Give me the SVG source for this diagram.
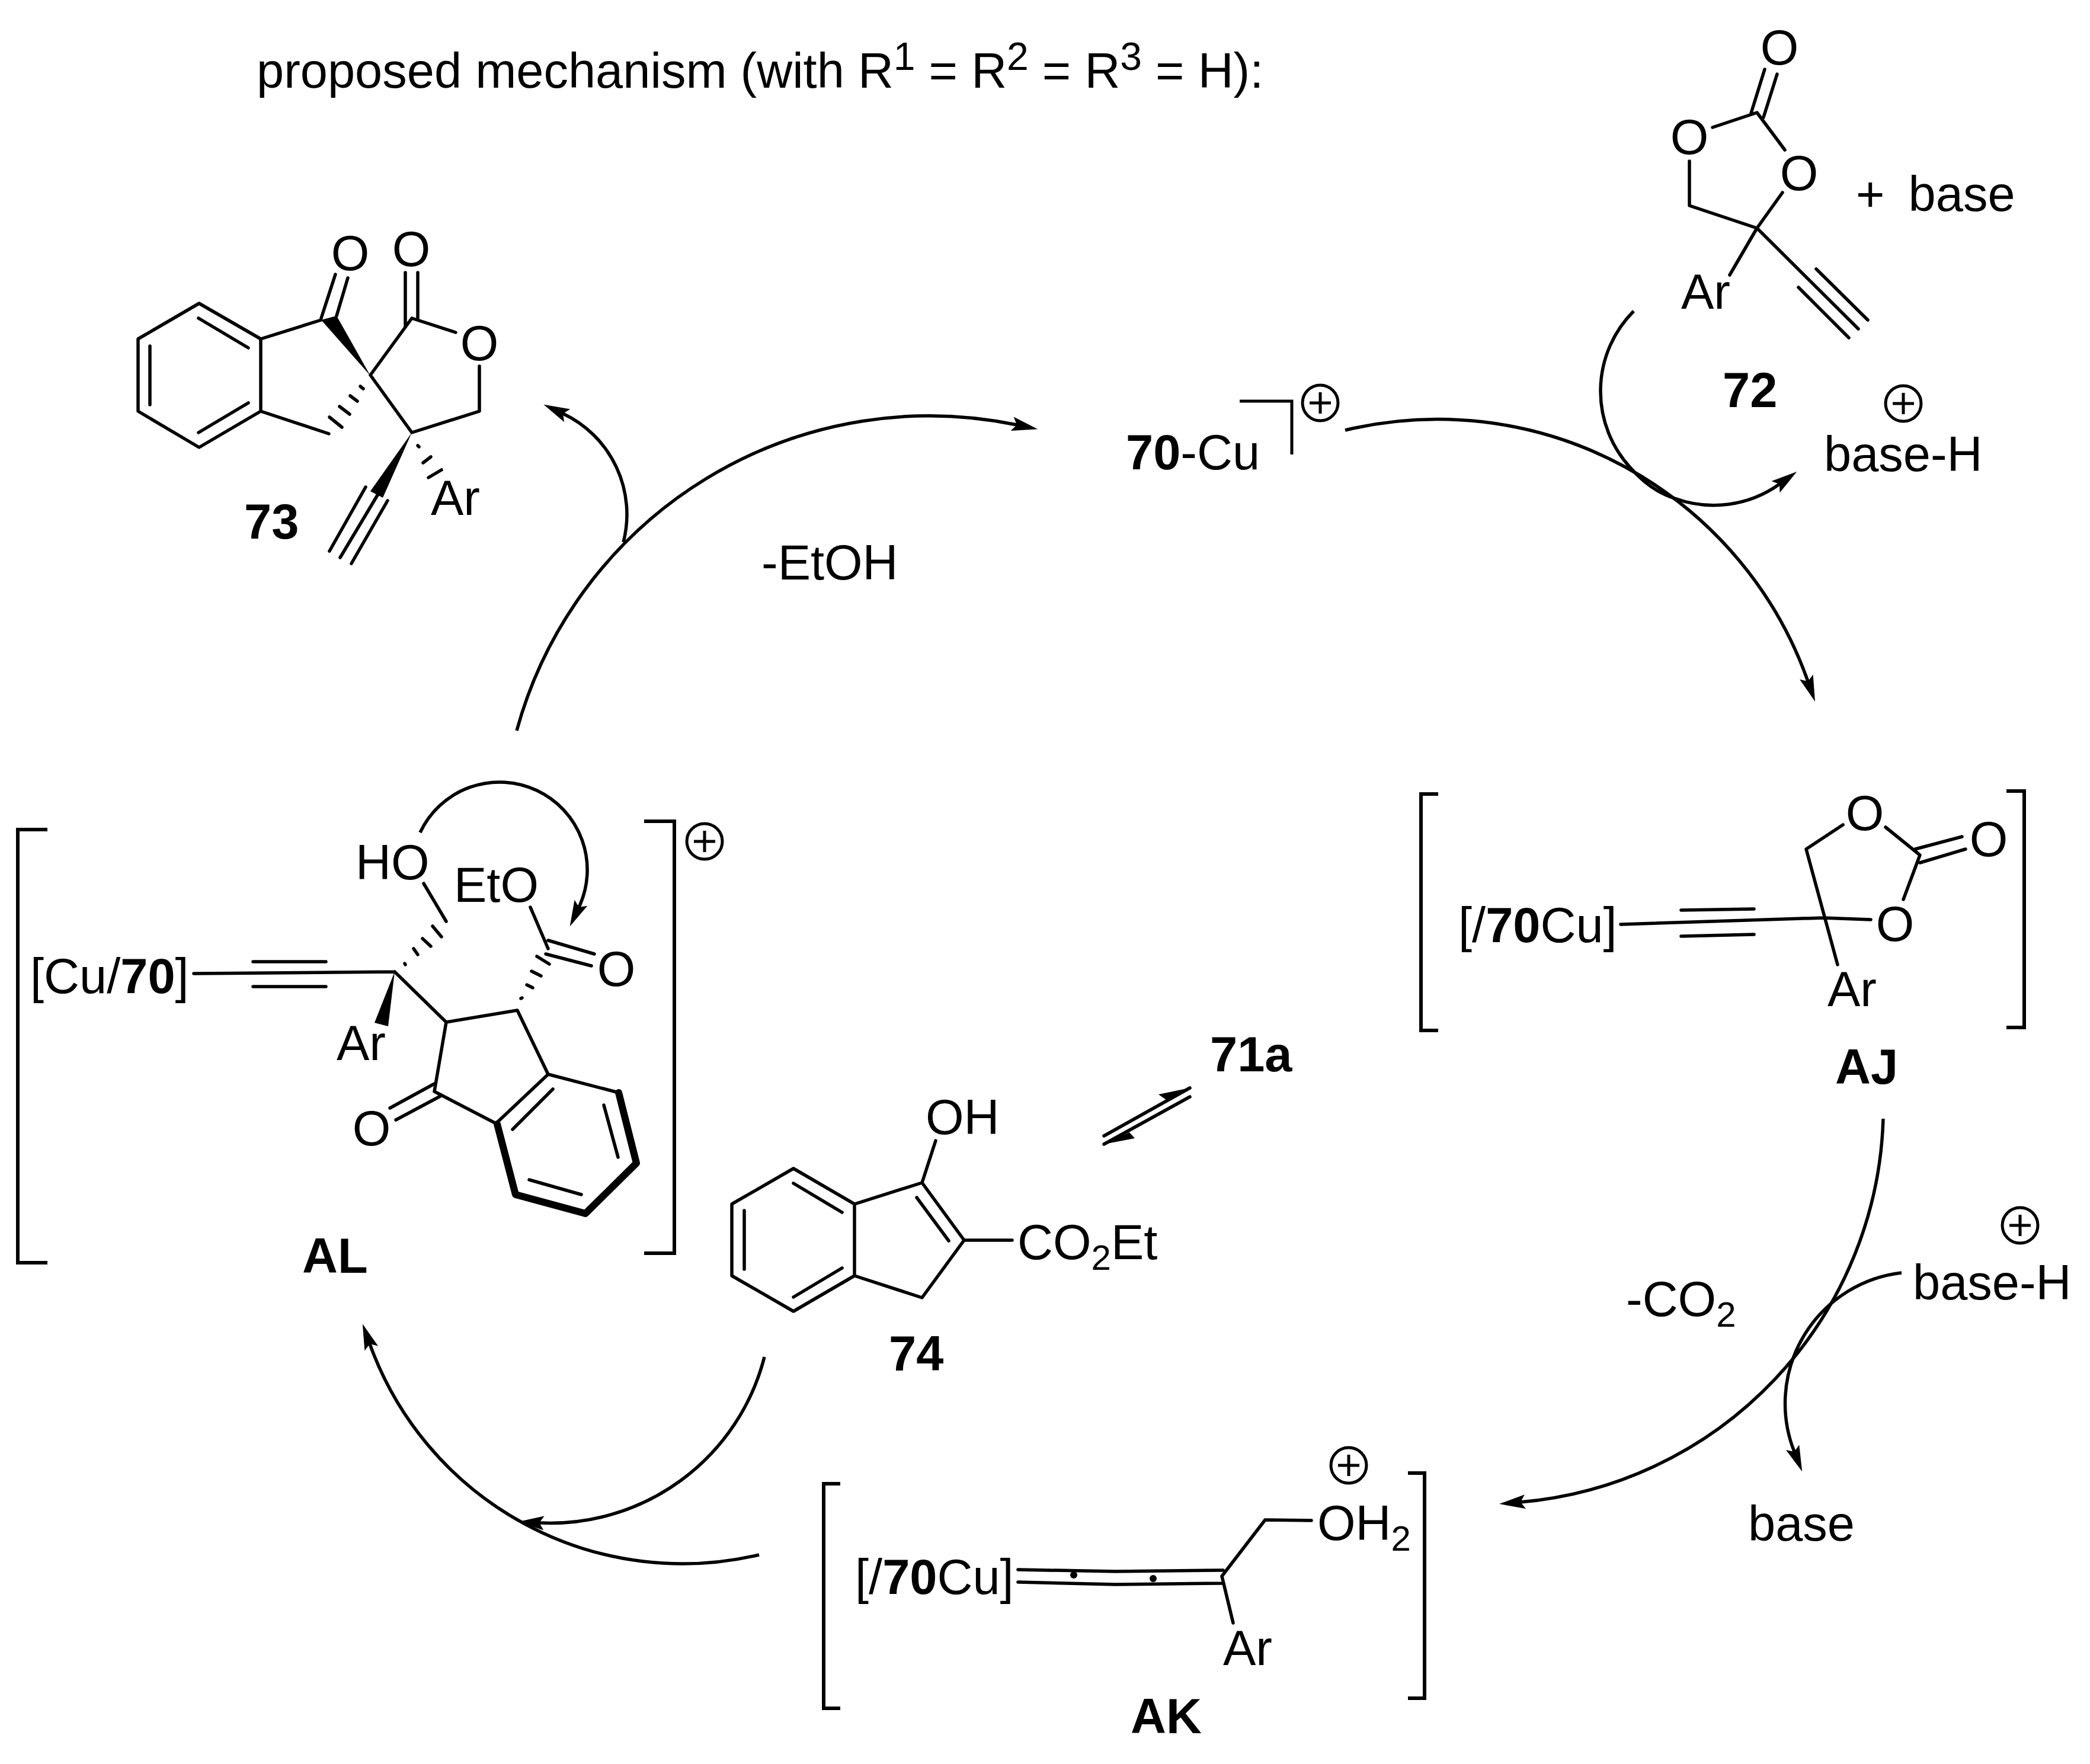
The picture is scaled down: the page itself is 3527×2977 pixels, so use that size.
<svg xmlns="http://www.w3.org/2000/svg" xmlns:xlink="http://www.w3.org/1999/xlink" width="3527" height="2977" viewBox="0 0 3527 2977">
<style>
text{font-family:"Liberation Sans",Arial,sans-serif;font-size:83px;fill:#000;white-space:pre}
.l{font-weight:700}
.m{text-anchor:middle}
.sm{font-size:60px}
.sb{font-size:66px}
.bd{font-weight:700}
.b{fill:none;stroke:#000;stroke-width:5.5;stroke-linecap:round;stroke-linejoin:round}
.h{stroke-width:12;stroke-linecap:round}
.br{fill:none;stroke:#000;stroke-width:6;stroke-linecap:butt;stroke-linejoin:miter}
.w{fill:#000;stroke:none}
.a{fill:none;stroke:#000;stroke-width:5.5;marker-end:url(#ah)}
.p{fill:none;stroke:#000;stroke-width:5;stroke-linecap:butt}
</style>
<defs>
<marker id="ah" markerUnits="userSpaceOnUse" markerWidth="60" markerHeight="40" refX="10" refY="20" orient="auto" overflow="visible"><path d="M2,8 L46,20 L2,32 L10,20Z" fill="#000"/></marker>
<g id="plus"><circle r="30" class="p"/><path d="M-18,0H18M0,-18V18" class="p"/></g>
</defs>
<rect width="3527" height="2977" fill="#fff"/>
<g id="connectors">
<path class="a" d="M1052,915A188,188 0 0 0 950,698"/>
<path class="a" d="M872,1233A722,722 0 0 1 1716,717"/>
<path class="a" d="M2270,726A663,663 0 0 1 3051,1150"/>
<path class="a" d="M2757,525A191,191 0 0 0 2752,790Q2785,828 2826,841A191,191 0 0 0 3003,817"/>
<path class="a" d="M3178,1888A670,670 0 0 1 2566,2535"/>
<path class="a" d="M3209,2148A222,222 0 0 0 3028,2450"/>
<path class="a" d="M1290,2290A373,373 0 0 1 910,2570"/>
<path class="a" d="M1281,2624A561,561 0 0 1 624,2268"/>
<path class="a" d="M709,1405A148,148 0 0 1 977,1531"/>
<path class="b" d="M1863,1917L2008,1836M2008,1851L1863,1931"/>
<path class="w" d="M2008,1836L1955,1847L1968,1856ZM1863,1931L1915,1921L1906,1911Z"/>
</g>
<g id="title"><text x="433" y="148">proposed mechanism (with R<tspan class="sb" dy="-30">1</tspan><tspan dy="30"> = R</tspan><tspan class="sb" dy="-30">2</tspan><tspan dy="30"> = R</tspan><tspan class="sb" dy="-30">3</tspan><tspan dy="30"> = H):</tspan></text></g>
<g id="n73">
<path class="b" d="M336,512L233,572V694L336,755L440,694V572ZM335,537L419,587M253,584V683M335,730L419,680M440,572L542,540M542,537L566,463M568,533L587,469M625,633L695,537L769,561M809,618V694L695,730L625,633M684,550V460M705,537V460M440,694L555,732M608,652L613,656M591,668L603,677M573,686L590,699M556,704L577,721M705,752L707,754M714,781L727,771M723,806L745,793M638,834L574,941M617,822L556,930M654,845L593,951"/>
<path class="w" d="M625,634L542,540L568,533ZM695,730L625,829L646,840Z"/>
<text class="m" x="591" y="456">O</text><text class="m" x="694" y="449">O</text><text class="m" x="809" y="608">O</text>
<text x="727" y="869">Ar</text><text class="l" x="412" y="909">73</text>
</g>
<g id="n72">
<path class="b" d="M2978,117L2955,191M2999,125L2976,198M2890,215L2965,190L3012,253M3008,325L2965,385L2851,347V272M2965,385L2919,464M2965,385L3136,555M3065,454L3152,540M3035,485L3120,570"/>
<text class="m" x="3003" y="109">O</text><text class="m" x="2851" y="260">O</text><text class="m" x="3036" y="321">O</text>
<text x="2837" y="521">Ar</text><text x="3132" y="356">+<tspan dx="-6">  base</tspan></text><text class="l" x="2907" y="687">72</text>
</g>
<g id="baseH1"><use href="#plus" xlink:href="#plus" x="3212" y="681"/><text x="3078" y="795">base-H</text></g>
<g id="n70Cu"><text x="1900" y="792"><tspan class="bd">70</tspan>-Cu</text><path class="p" d="M2092,677H2180V767"/><use href="#plus" xlink:href="#plus" x="2228" y="680"/></g>
<g id="nAJ">
<path class="br" d="M2427,1340H2398V1739H2427M3386,1335H3416V1734H3386"/>
<path class="b" d="M2735,1560L3077,1549L3157,1552M2837,1536L2960,1534M2837,1580L2960,1577M3110,1392L3048,1433L3101,1628M3182,1396L3240,1443L3212,1518M3232,1433L3311,1412M3240,1456L3317,1433"/>
<text x="2461" y="1590">[/<tspan class="bd">70</tspan>Cu]</text>
<text class="m" x="3198" y="1588">O</text><text class="m" x="3147" y="1401">O</text><text class="m" x="3356" y="1445">O</text>
<text x="3084" y="1698">Ar</text><text class="l" x="3097" y="1829">AJ</text>
</g>
<g id="nAK">
<path class="br" d="M1418,2504H1390V2883H1418M2376,2486H2404V2866H2376"/>
<path class="b" d="M1718,2649L1883,2652L2064,2650M1718,2670L1883,2674L2062,2672M2062,2660L2135,2565L2213,2566M2062,2660L2081,2739"/>
<circle cx="1812" cy="2658" r="6" class="w"/><circle cx="1946" cy="2664" r="6" class="w"/>
<use href="#plus" xlink:href="#plus" x="2276" y="2473"/>
<text x="1443" y="2690">[/<tspan class="bd">70</tspan>Cu]</text>
<text x="2223" y="2599">OH<tspan class="sm" dy="18">2</tspan></text>
<text x="2064" y="2810">Ar</text><text class="l" x="1908" y="2925">AK</text>
</g>
<g id="nAL">
<path class="br" d="M80,1400H30V2131H80M1087,1386H1138V2115H1087"/>
<use href="#plus" xlink:href="#plus" x="1189" y="1420"/>
<path class="b" d="M327,1643L666,1640M427,1623H550M427,1665H550M683,1626L684,1628M698,1601L705,1611M713,1584L727,1597M730,1563L745,1581M753,1555L715,1491M895,1531L925,1601M925,1587L1003,1610M921,1610L998,1630M879,1685L881,1684M889,1662L899,1667M897,1639L913,1647M906,1614L927,1627M666,1640L753,1725L873,1705L925,1813M753,1725L733,1842M733,1829L658,1870M743,1850L668,1890M733,1842L837,1896M925,1813L837,1896M933,1838L865,1906M925,1813L1044,1844M1019,1865L1043,1953M893,1991L981,2016"/>
<path class="b h" d="M1044,1844L1074,1963L988,2048L870,2016L839,1897"/>
<path class="w" d="M666,1640L632,1726L655,1732Z"/>
<text x="51" y="1676">[Cu/<tspan class="bd">70</tspan>]</text>
<text x="600" y="1484">HO</text><text x="766" y="1522">EtO</text>
<text class="m" x="1040" y="1664">O</text><text class="m" x="627" y="1933">O</text>
<text x="568" y="1789">Ar</text><text class="l" x="510" y="2148">AL</text>
</g>
<g id="n74">
<path class="b" d="M1339,1972L1235,2032V2153L1339,2213L1442,2153V2032ZM1339,1997L1421,2046M1256,2043V2142M1339,2189L1421,2140M1442,2032L1556,1996L1627,2093L1556,2190L1442,2153M1547,2021L1601,2094M1627,2093H1708M1556,1996L1579,1925"/>
<text x="1562" y="1914">OH</text>
<text x="1717" y="2125">CO<tspan class="sm" dy="18">2</tspan><tspan dy="-18">Et</tspan></text>
<text class="l" x="1500" y="2313">74</text>
</g>
<g id="n71a"><text class="l" x="2042" y="1808">71a</text></g>
<g id="labels">
<text x="1285" y="978">-EtOH</text>
<text x="2744" y="2221">-CO<tspan class="sm" dy="18">2</tspan></text>
<use href="#plus" xlink:href="#plus" x="3409" y="2068"/>
<text x="3228" y="2193">base-H</text>
<text x="2950" y="2600">base</text>
</g>
</svg>
